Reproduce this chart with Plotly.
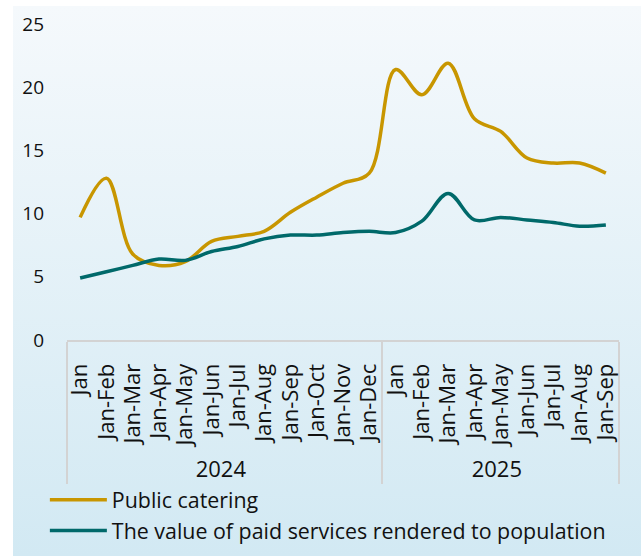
import base64
import plotly.graph_objects as go

# Period labels (cumulative since January) and their years
years = ["2024"] * 12 + ["2025"] * 9
periods_2024 = ["Jan", "Jan-Feb", "Jan-Mar", "Jan-Apr", "Jan-May", "Jan-Jun",
                "Jan-Jul", "Jan-Aug", "Jan-Sep", "Jan-Oct", "Jan-Nov", "Jan-Dec"]
periods_2025 = ["Jan", "Jan-Feb", "Jan-Mar", "Jan-Apr", "Jan-May", "Jan-Jun",
                "Jan-Jul", "Jan-Aug", "Jan-Sep"]
periods = periods_2024 + periods_2025

public_catering = [9.7, 12.8, 6.8, 5.9, 6.2, 7.8, 8.2, 8.6, 10.1, 11.3, 12.4, 13.2,
                   21.4, 19.4, 21.9, 17.5, 16.5, 14.4, 14.0, 14.0, 13.2]
paid_services = [4.9, 5.4, 5.9, 6.4, 6.3, 7.0, 7.4, 8.0, 8.3, 8.3, 8.5, 8.6,
                 8.5, 9.4, 11.6, 9.5, 9.7, 9.5, 9.3, 9.0, 9.1]

y_ticks = [0, 5, 10, 15, 20, 25]

GOLD = "#C89600"
TEAL = "#00696A"
FONT = "Open Sans"

# Vertical gradient panel behind the chart
svg = (
    '<svg xmlns="http://www.w3.org/2000/svg" width="100" height="100" preserveAspectRatio="none">'
    '<defs><linearGradient id="g" x1="0" y1="0" x2="0" y2="1">'
    '<stop offset="0" stop-color="#f5f9fc"/><stop offset="1" stop-color="#d2e9f3"/>'
    '</linearGradient></defs><rect width="100" height="100" fill="url(#g)"/></svg>'
)
bg_src = "data:image/svg+xml;base64," + base64.b64encode(svg.encode()).decode()

fig = go.Figure()
fig.add_trace(go.Scatter(
    x=[years, periods], y=public_catering, name="Public catering",
    mode="lines", line=dict(color=GOLD, width=3.5, shape="spline", smoothing=1.0),
))
fig.add_trace(go.Scatter(
    x=[years, periods], y=paid_services,
    name="The value of paid services rendered to population",
    mode="lines", line=dict(color=TEAL, width=3.5, shape="spline", smoothing=1.0),
))

W, H = 641, 556
L, R, T, B = 67, 22, 24, 216
pw, ph = W - L - R, H - T - B
x0 = (13 - L) / pw
x1 = (W - L) / pw
ytop = (H - B - 6) / ph
ybot = (H - B - H) / ph

fig.update_layout(
    width=W, height=H,
    margin=dict(l=L, r=R, t=T, b=B, autoexpand=False),
    paper_bgcolor="white", plot_bgcolor="rgba(0,0,0,0)",
    font=dict(family=FONT, size=18, color="#111111"),
    images=[dict(source=bg_src, xref="paper", yref="paper", x=x0, y=ytop,
                 sizex=x1 - x0, sizey=ytop - ybot, sizing="stretch",
                 layer="below", xanchor="left", yanchor="top")],
    showlegend=True,
    legend=dict(orientation="v", xref="container", yref="container",
                x=0.07, y=0.138, xanchor="left", yanchor="top",
                bgcolor="rgba(0,0,0,0)", font=dict(size=21.4, family=FONT),
                itemwidth=57, tracegroupgap=0),
    xaxis=dict(type="multicategory", range=[-0.5, len(periods) - 0.5],
               tickangle=-90, showgrid=False, automargin=False,
               showline=True, linecolor="#d3d3d3", linewidth=2,
               showdividers=True, dividercolor="#d3d3d3", dividerwidth=2,
               ticklabelstandoff=13,
               tickfont=dict(size=22, family=FONT), ticks=""),
    yaxis=dict(range=[0, 25], tickvals=y_ticks, showgrid=False, zeroline=False,
               automargin=False, showline=False, ticks="", ticklabelstandoff=22,
               tickfont=dict(size=19, family=FONT)),
)

fig.write_html("out.html")
